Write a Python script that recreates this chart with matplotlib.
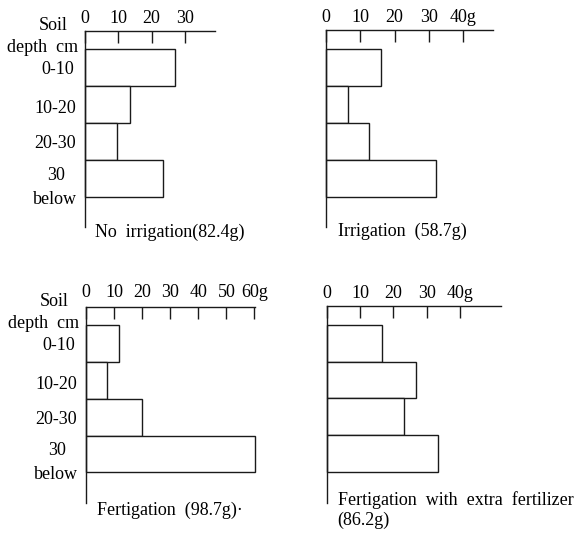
import matplotlib
matplotlib.use("Agg")
import matplotlib.pyplot as plt

plt.rcParams['font.family'] = ['Liberation Serif', 'DejaVu Serif']
plt.rcParams['font.size'] = 13

# ---- data ----
depth_labels = ["0-10", "10-20", "20-30", "30"]
no_irrigation = [27.0, 13.5, 9.7, 23.5]
irrigation = [16.1, 6.4, 12.7, 32.0]
fertigation = [11.7, 7.6, 20.0, 60.1]
fert_extra = [16.7, 26.7, 23.3, 33.5]

ticks_p1 = [0, 10, 20, 30]
ticklabels_p1 = ["0", "10", "20", "30"]
ticks_p2 = [0, 10, 20, 30, 40]
ticklabels_p2 = ["0", "10", "20", "30", "40g"]
ticks_p3 = [0, 10, 20, 30, 40, 50, 60]
ticklabels_p3 = ["0", "10", "20", "30", "40", "50", "60g"]
ticks_p4 = [0, 10, 20, 30, 40]
ticklabels_p4 = ["0", "10", "20", "30", "40g"]

captions = ["No  irrigation(82.4g)", "Irrigation  (58.7g)",
            "Fertigation  (98.7g)\u00b7", "Fertigation  with  extra  fertilizer\n(86.2g)"]

W, H = 576, 544
fig = plt.figure(figsize=(W / 100, H / 100), dpi=100)
fig.patch.set_facecolor('white')

LC = '#1a1a1a'

def make_ax(left, right, top, bottom):
    return fig.add_axes([left / W, 1 - bottom / H, (right - left) / W, (bottom - top) / H])

panels = [
    dict(box=(85, 215, 31, 227), xmax=39.0, ylim=(4.31, -0.99), vals=no_irrigation,
         ticks=ticks_p1, tl=ticklabels_p1, pad=3.0, ylab=True, cap=captions[0], capdx=10, capdy=-5),
    dict(box=(325.7, 493, 30, 227), xmax=48.6, ylim=(4.31, -1.0), vals=irrigation,
         ticks=ticks_p2, tl=ticklabels_p2, pad=3.0, ylab=False, cap=captions[1], capdx=12, capdy=-4),
    dict(box=(86, 255, 307.3, 503), xmax=60.2, ylim=(4.33, -0.98), vals=fertigation,
         ticks=ticks_p3, tl=ticklabels_p3, pad=4.5, ylab=True, cap=captions[2], capdx=11, capdy=-7),
    dict(box=(326.7, 500.7, 306, 503), xmax=52.2, ylim=(4.35, -1.02), vals=fert_extra,
         ticks=ticks_p4, tl=ticklabels_p4, pad=3.0, ylab=False, cap=captions[3], capdx=11, capdy=-7),
]

for p in panels:
    ax = make_ax(*p['box'])
    ax.set_xlim(0, p['xmax'])
    ax.set_ylim(*p['ylim'])
    ypos = list(range(len(p['vals'])))
    bars = ax.barh(ypos, p['vals'], height=1.0, color='white', edgecolor=LC, linewidth=1.0)
    for b in bars:
        b.set_clip_on(False)
    for s in ['right', 'bottom']:
        ax.spines[s].set_visible(False)
    for s in ['top', 'left']:
        ax.spines[s].set_color(LC)
        ax.spines[s].set_linewidth(1.0)
    ax.set_xticks(p['ticks'])
    ax.set_xticklabels(p['tl'])
    ax.tick_params(axis='x', top=True, labeltop=True, bottom=False, labelbottom=False,
                   direction='in', length=8.6, width=1.0, color=LC, pad=p['pad'], labelsize=13)
    ax.set_yticks([])
    ax.patch.set_alpha(0)

    if p['ylab']:
        items = [("Soil", 0, -32, -42), ("depth  cm", 0, -42, -20)]
        offs = [(-27, 2), (-30, 4), (-30, 2), (-29, -3)]
        for i, lab in enumerate(depth_labels):
            items.append((lab, i, offs[i][0], offs[i][1]))
        items.append(("below", 3, -30, 21))
        for txt, yi, dx, dy in items:
            ax.annotate(txt, xy=(0, yi), xycoords=('axes fraction', 'data'),
                        xytext=(dx, -dy), textcoords='offset pixels',
                        ha='center', va='center', fontsize=13, annotation_clip=False)

    ax.annotate(p['cap'], xy=(0, 0), xycoords='axes fraction',
                xytext=(p['capdx'], p['capdy']), textcoords='offset pixels',
                ha='left', va='center', fontsize=13, linespacing=1.15,
                annotation_clip=False)

fig.savefig('out.png', dpi=100, facecolor='white')
